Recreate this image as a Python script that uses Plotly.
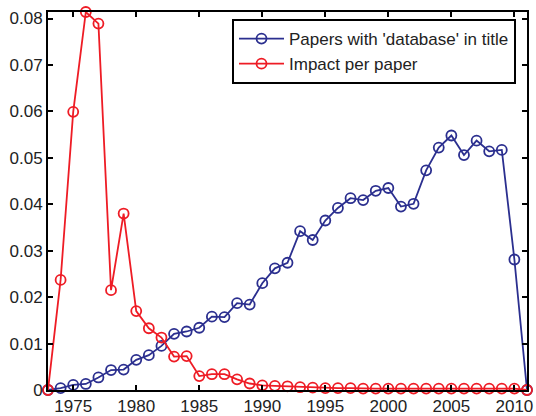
import plotly.graph_objects as go

years = list(range(1973, 2012))

papers_with_database = [
    0.0000, 0.0004, 0.0011, 0.0013, 0.0027, 0.0043, 0.0044, 0.0065, 0.0075, 0.0095,
    0.0121, 0.0126, 0.0134, 0.0158, 0.0157, 0.0187, 0.0184, 0.0230, 0.0262, 0.0274,
    0.0342, 0.0323, 0.0365, 0.0392, 0.0413, 0.0409, 0.0429, 0.0435, 0.0395, 0.0401,
    0.0473, 0.0522, 0.0548, 0.0506, 0.0537, 0.0514, 0.0517, 0.0281, 0.0000,
]

impact_per_paper = [
    0.0000, 0.0237, 0.0599, 0.0814, 0.0789, 0.0215, 0.0380, 0.0170, 0.0133, 0.0113,
    0.0072, 0.0073, 0.0030, 0.0034, 0.0034, 0.0023, 0.0014, 0.0010, 0.0009, 0.0008,
    0.0006, 0.0005, 0.0004, 0.0004, 0.0004, 0.0003, 0.0003, 0.0003, 0.0003, 0.0003,
    0.0003, 0.0003, 0.0003, 0.0003, 0.0003, 0.0003, 0.0003, 0.0003, 0.0000,
]

x_ticks = [1975, 1980, 1985, 1990, 1995, 2000, 2005, 2010]
y_ticks = [0, 0.01, 0.02, 0.03, 0.04, 0.05, 0.06, 0.07, 0.08]
y_tick_labels = ["0", "0.01", "0.02", "0.03", "0.04", "0.05", "0.06", "0.07", "0.08"]

BLUE = "#2B2F8F"
RED = "#EE1C25"
FONT = "Liberation Sans, Arial, sans-serif"

fig = go.Figure()
fig.add_trace(go.Scatter(
    x=years, y=papers_with_database, mode="lines+markers",
    name="Papers with 'database' in title",
    line=dict(color=BLUE, width=1.8),
    marker=dict(symbol="circle-open", size=10, color=BLUE, line=dict(width=1.8)),
    cliponaxis=False,
))
fig.add_trace(go.Scatter(
    x=years, y=impact_per_paper, mode="lines+markers",
    name="Impact per paper",
    line=dict(color=RED, width=1.8),
    marker=dict(symbol="circle-open", size=10, color=RED, line=dict(width=1.8)),
    cliponaxis=False,
))

axis_common = dict(
    showline=True, linecolor="black", linewidth=2, mirror="ticks",
    ticks="inside", ticklen=5, tickwidth=1.5, tickcolor="black",
    showgrid=False, zeroline=False, automargin=False,
    tickfont=dict(family=FONT, size=17, color="#222"),
)

fig.update_xaxes(range=[1973, 2011], tickvals=x_ticks, **axis_common)
fig.update_yaxes(range=[0, 0.0814], tickvals=y_ticks, ticktext=y_tick_labels, **axis_common)

fig.update_layout(
    width=536, height=416,
    margin=dict(l=48, r=9, t=12, b=26),
    paper_bgcolor="white", plot_bgcolor="white",
    showlegend=True,
    legend=dict(
        x=(232 - 48) / 479, y=1 - (19 - 12) / 378, xanchor="left", yanchor="top",
        bgcolor="white", bordercolor="black", borderwidth=2,
        font=dict(family=FONT, size=17, color="#222"),
        tracegroupgap=0, itemwidth=45,
    ),
)

fig.write_html("out.html")
